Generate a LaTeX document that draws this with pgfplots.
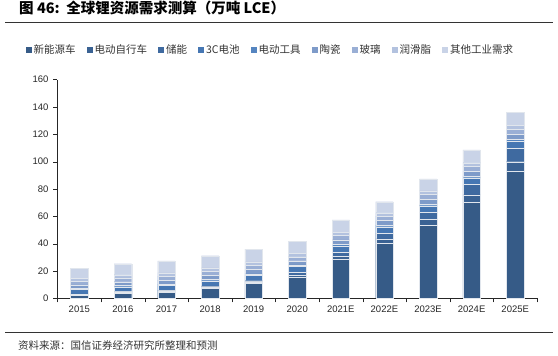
\documentclass[border=0pt]{standalone}
\usepackage{pgfplots}
\usepackage{pgfplotstable}
\pgfplotsset{compat=1.18}
\usepackage{fontspec}
\setmainfont{Liberation Sans}
\newfontfamily\cjk{Noto Sans CJK SC}
\definecolor{c1}{HTML}{365B87}
\definecolor{c2}{HTML}{3A6293}
\definecolor{c3}{HTML}{3F6AA0}
\definecolor{c4}{HTML}{4677B3}
\definecolor{c5}{HTML}{5585C0}
\definecolor{c6}{HTML}{7E9BC9}
\definecolor{c7}{HTML}{9AAFD5}
\definecolor{c8}{HTML}{B3C2DF}
\definecolor{c9}{HTML}{C9D3E7}
\pgfplotstableread{
x nev ebike ess cc tools ceramic glass grease other
0 2.0 0.9 0.3 3.2 0.8 2.6 2.6 2.3 7.3
1 3.7 1.0 0.4 3.4 0.9 2.8 2.8 2.3 8.0
2 4.4 1.0 0.5 3.6 0.9 2.9 2.9 2.4 8.7
3 7.5 1.0 0.6 3.8 1.0 3.0 3.0 2.4 8.9
4 11.0 1.1 0.8 4.0 1.0 3.1 3.1 2.5 9.3
5 15.2 1.8 2.0 4.4 1.1 3.0 3.0 2.5 8.5
6 28.5 2.2 3.0 4.6 1.2 3.2 3.2 2.5 8.9
7 40.2 3.3 4.2 4.7 1.2 3.3 3.3 2.4 8.1
8 53.4 4.2 5.4 4.8 1.0 3.6 3.5 2.6 8.9
9 70.2 5.5 7.6 5.0 1.0 3.8 3.6 2.5 9.3
10 93.0 7.0 9.8 5.3 1.1 3.9 3.7 2.6 9.5
}\datatable
\newcommand{\gap}{\kern9pt}
\begin{document}
\begin{tikzpicture}[x=1pt,y=1pt]
\useasboundingbox (0,0) rectangle (558,356);
\node[anchor=west,inner sep=0pt] at (19,348) {\cjk\bfseries\fontsize{14.5}{16}\selectfont 图 46:\ \ 全球锂资源需求测算（万吨 LCE）};
\draw[line width=0.9pt,black!80] (5,334) -- (553,334);
\draw[line width=0.9pt,black!80] (5,23.3) -- (553,23.3);
\node[anchor=west,inner sep=0pt,text=black!80] at (18,10.5) {\cjk\fontsize{10.5}{12}\selectfont 资料来源：国信证券经济研究所整理和预测};
\begin{axis}[
  at={(57.5pt,57.7pt)}, anchor=south west,
  scale only axis, width=479.5pt, height=218.7pt,
  ybar stacked, bar width=17.5pt,
  xmin=-0.5, xmax=10.5, ymin=0, ymax=160,
  xtick={0,...,10},
  xticklabels={2015,2016,2017,2018,2019,2020,2021E,2022E,2023E,2024E,2025E},
  minor xtick={-0.5,0.5,...,10.5},
  ytick={0,20,...,160},
  axis x line*=bottom, axis y line*=left,
  axis line style={-,black!85},
  tick align=outside,
  major tick length=4pt, minor tick length=4pt,
  major x tick style={draw=none},
  minor x tick style={black!85},
  y tick style={black!85},
  tick label style={font=\fontsize{9.5}{11}\selectfont, text=black!85},
  yticklabel style={xshift=-1.5pt},
  /pgf/number format/assume math mode=true,
  legend columns=-1,
  legend style={at={(axis description cs:0.443,1.135)}, anchor=center, draw=none, fill=none,
    font=\cjk\fontsize{10.5}{12}\selectfont, text=black!80, column sep=1pt,
    nodes={inner sep=1pt}},
  legend image code/.code={\draw[#1,draw=none] (0pt,-3pt) rectangle (6pt,3pt);},
  every axis plot/.append style={draw=white!85!c1, line width=0.2pt},
]
\addplot[fill=c1] table[x=x,y=nev]{\datatable};
\addplot[fill=c2] table[x=x,y=ebike]{\datatable};
\addplot[fill=c3] table[x=x,y=ess]{\datatable};
\addplot[fill=c4] table[x=x,y=cc]{\datatable};
\addplot[fill=c5] table[x=x,y=tools]{\datatable};
\addplot[fill=c6] table[x=x,y=ceramic]{\datatable};
\addplot[fill=c7] table[x=x,y=glass]{\datatable};
\addplot[fill=c8] table[x=x,y=grease]{\datatable};
\addplot[fill=c9] table[x=x,y=other]{\datatable};
\legend{新能源车\gap,电动自行车\gap,储能\gap,3C电池\gap,电动工具\gap,陶瓷\gap,玻璃\gap,润滑脂\gap,其他工业需求}
\end{axis}
\end{tikzpicture}
\end{document}
